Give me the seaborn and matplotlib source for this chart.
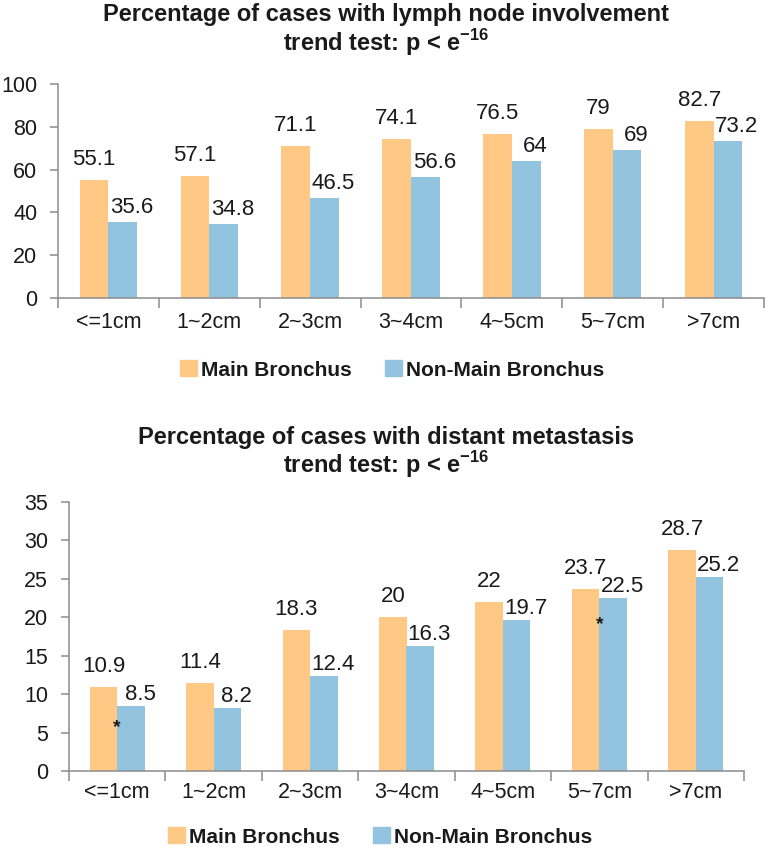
import pandas as pd
import seaborn as sns
import matplotlib.pyplot as plt
from matplotlib.patches import Patch

# Data
sizes = ['<=1cm', '1~2cm', '2~3cm', '3~4cm', '4~5cm', '5~7cm', '>7cm']
groups = ['Main Bronchus', 'Non-Main Bronchus']
lymph_main = [55.1, 57.1, 71.1, 74.1, 76.5, 79, 82.7]
lymph_non = [35.6, 34.8, 46.5, 56.6, 64, 69, 73.2]
meta_main = [10.9, 11.4, 18.3, 20, 22, 23.7, 28.7]
meta_non = [8.5, 8.2, 12.4, 16.3, 19.7, 22.5, 25.2]
# asterisks on the metastasis chart (category index, height)
star_idx = [0, 5]
star_val = [5.6, 19]

colors = ['#FFC985', '#93C4DF']
text_c = '#1a1a1a'
axis_c = '#8c8c8c'

sns.set_theme(style='white')
plt.rcParams['font.family'] = ['Liberation Sans', 'DejaVu Sans']
plt.rcParams['mathtext.fontset'] = 'custom'
plt.rcParams['mathtext.rm'] = 'Liberation Sans'
plt.rcParams['mathtext.bf'] = 'Liberation Sans:bold'


def long_df(main, non):
    return pd.DataFrame({
        'size': sizes * 2,
        'group': [groups[0]] * len(sizes) + [groups[1]] * len(sizes),
        'pct': main + non,
    })


def draw(ax, main, non, ymax, ystep, blue_dy, xpad):
    df = long_df(main, non)
    sns.barplot(data=df, x='size', y='pct', hue='group', order=sizes, hue_order=groups,
                palette=colors, saturation=1, width=0.57, gap=0, linewidth=0,
                legend=False, ax=ax)
    # value labels
    for k, cont in enumerate(ax.containers):
        for bar in cont:
            h = bar.get_height()
            x = bar.get_x() + bar.get_width() / 2
            if k == 0:
                off = (0, 15)
            else:
                off = (9, blue_dy)
            ax.annotate(f'{h:g}', (x, h), xytext=off, textcoords='offset pixels',
                        ha='center', va='baseline', fontsize=16, color=text_c)
    ax.set_xlim(-0.5, len(sizes) - 0.5)
    ax.set_ylim(0, ymax)
    ax.set_yticks(range(0, ymax + 1, ystep))
    ax.set_xticks([i - 0.5 for i in range(len(sizes) + 1)])
    ax.set_xticklabels([])
    ax.set_xticks(range(len(sizes)), minor=True)
    ax.set_xticklabels(sizes, minor=True)
    ax.tick_params(axis='x', which='major', length=7, width=1.1, color=axis_c, direction='out', bottom=True)
    ax.tick_params(axis='x', which='minor', length=0, pad=xpad, labelsize=15.5, labelcolor=text_c, bottom=True)
    ax.tick_params(axis='y', length=6, width=1.1, color=axis_c, direction='out', left=True,
                   pad=9, labelsize=15.5, labelcolor=text_c)
    for s in ['top', 'right']:
        ax.spines[s].set_visible(False)
    for s in ['left', 'bottom']:
        ax.spines[s].set_color(axis_c)
        ax.spines[s].set_linewidth(1.1)
    ax.set_xlabel('')
    ax.set_ylabel('')


fig = plt.figure(figsize=(7.72, 8.5), dpi=100)
ax1 = fig.add_axes([58 / 772, 1 - 298 / 850, 706 / 772, 214 / 850])
ax2 = fig.add_axes([69 / 772, 1 - 771 / 850, 675 / 772, 269 / 850])

draw(ax1, lymph_main, lymph_non, 100, 20, 9, 10)
draw(ax2, meta_main, meta_non, 35, 5, 6, 8)

for i, v in zip(star_idx, star_val):
    ax2.text(i, v, '*', ha='center', va='center', fontsize=14, weight='bold', color=text_c)

# titles
fig.text(0.5, 1 - 15 / 850, 'Percentage of cases with lymph node involvement',
         ha='center', va='center', fontsize=17, weight='bold', color=text_c)
fig.text(0.5, 1 - 43 / 850, r'trend test: p < e$^{\mathbf{-16}}$',
         ha='center', va='center', fontsize=17, weight='bold', color=text_c)
fig.text(0.5, 1 - 437 / 850, 'Percentage of cases with distant metastasis',
         ha='center', va='center', fontsize=17, weight='bold', color=text_c)
fig.text(0.5, 1 - 465 / 850, r'trend test: p < e$^{\mathbf{-16}}$',
         ha='center', va='center', fontsize=17, weight='bold', color=text_c)

# legends
handles = [Patch(color=c) for c in colors]
for xc, yc in [(392 / 772, 1 - 370 / 850), (380 / 772, 1 - 837 / 850)]:
    fig.legend(handles, groups, loc='center', bbox_to_anchor=(xc, yc), ncol=2, frameon=False,
               handlelength=0.8, handleheight=0.8, handletextpad=0.2, columnspacing=1.6,
               prop={'weight': 'bold', 'size': 15}, labelcolor=text_c)

fig.savefig('out.png', dpi=100)
